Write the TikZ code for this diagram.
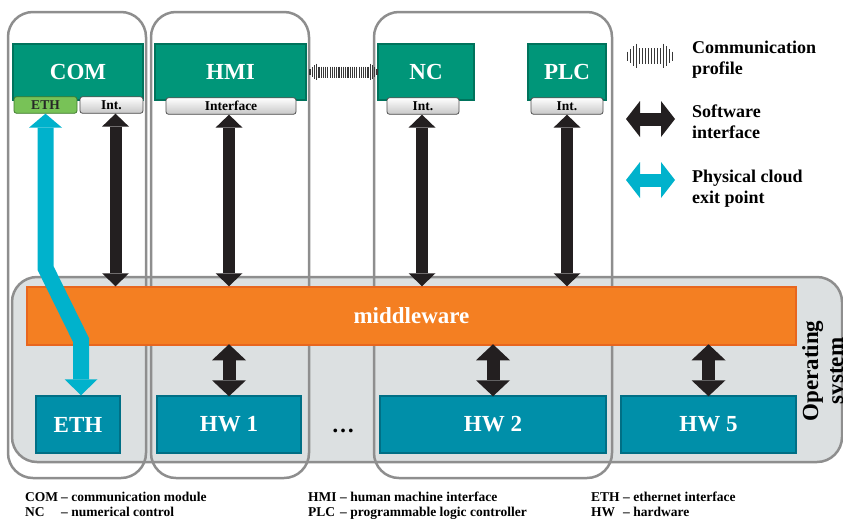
\documentclass[tikz,border=0pt]{standalone}
\usepackage{fontspec}
\setmainfont{Liberation Serif}
\usetikzlibrary{arrows.meta,calc}
\definecolor{modgreen}{HTML}{009679}
\definecolor{modgreenD}{HTML}{00735C}
\definecolor{tabgreen}{HTML}{78C257}
\definecolor{tabgreenD}{HTML}{3F7A2E}
\definecolor{mworange}{HTML}{F47F22}
\definecolor{mworangeD}{HTML}{E8661E}
\definecolor{hwblue}{HTML}{008FA9}
\definecolor{hwblueD}{HTML}{006F85}
\definecolor{osfill}{HTML}{DCE0E1}
\definecolor{framegray}{HTML}{8E8E8E}
\definecolor{physcyan}{HTML}{00B2CC}
\definecolor{swblack}{HTML}{231F20}
\definecolor{cpgray}{HTML}{383838}
\definecolor{tabgrayD}{HTML}{4D4D4D}
\tikzset{
  pics/commprof/.style n args={5}{code={
    \foreach \i in {0,...,#5}{
      \pgfmathsetmacro\cpx{-#1+2*#1*\i/#5}
      \pgfmathsetmacro\cpd{#1-abs(\cpx)}
      \pgfmathsetmacro\cph{(\cpd<#2) ? (#3*(0.3+0.7*\cpd/#2)) : (#4)}
      \draw (\cpx,-\cph) -- (\cpx,\cph);
    }
  }},
  frame/.style={draw=framegray, line width=2.5pt, rounded corners=25pt},
  module/.style={fill=modgreen, draw=modgreenD, line width=1.2pt, text=white,
    font=\fontsize{23}{23}\selectfont\bfseries, minimum height=56pt, inner sep=0pt},
  inttab/.style={top color=white, bottom color=black!22, draw=tabgrayD, line width=0.8pt,
    rounded corners=2.5pt, font=\fontsize{13.5}{13.5}\selectfont\bfseries, inner sep=0pt,
    minimum height=16.5pt},
  ethtabst/.style={inttab, top color=tabgreen, bottom color=tabgreen, draw=tabgreenD},
  hwbox/.style={fill=hwblue, draw=hwblueD, line width=1.5pt, text=white,
    font=\fontsize{23}{23}\selectfont\bfseries, minimum height=57pt, inner sep=0pt},
  mwbox/.style={fill=mworange, draw=mworangeD, line width=1.5pt, text=white,
    font=\fontsize{23}{23}\selectfont\bfseries, minimum height=58pt, minimum width=769pt, inner sep=0pt},
  swtop/.style={draw=swblack, line width=12pt,
    arrows={Triangle[width=27pt,length=13pt,line width=0pt]-Triangle[width=27pt,length=13pt,line width=0pt]}},
  swbot/.style={draw=swblack, line width=13pt,
    arrows={Triangle[width=34pt,length=16pt,line width=0pt]-Triangle[width=34pt,length=16pt,line width=0pt]}},
  swlegend/.style={draw=swblack, line width=13pt,
    arrows={Triangle[width=36pt,length=14pt,line width=0pt]-Triangle[width=36pt,length=14pt,line width=0pt]}},
  physarrow/.style={draw=physcyan, line width=16pt,
    arrows={Triangle[width=33pt,length=14pt,line width=0pt]-Triangle[width=33pt,length=16pt,line width=0pt]}},
  physlegend/.style={draw=physcyan, line width=13pt,
    arrows={Triangle[width=36pt,length=14pt,line width=0pt]-Triangle[width=36pt,length=14pt,line width=0pt]}},
  legtext/.style={anchor=north west, align=left, inner sep=0pt,
    font=\fontsize{18}{21}\selectfont\bfseries},
  foot/.style={anchor=base west, inner sep=0pt, font=\fontsize{13.5}{15}\selectfont\bfseries}
}
\begin{document}
\begin{tikzpicture}[x=1pt,y=-1pt]
\useasboundingbox (0,0) rectangle (843,520);
% operating system region
\draw[frame, fill=osfill] (12,277) rectangle (842,462);
% columns
\draw[frame] (8,12) rectangle (146,478);
\draw[frame] (151,12) rectangle (309,478);
\draw[frame] (374,12) rectangle (612,478);
% modules
\node[module, minimum width=130pt] (com) at (78,72) {COM};
\node[module, minimum width=151pt] (hmi) at (230.5,72) {HMI};
\node[module, minimum width=96pt] (nc) at (426,72) {NC};
\node[module, minimum width=78pt] (plc) at (567,72) {PLC};
% tabs
\node[ethtabst, minimum width=63pt, text=black!85] (ethtab) at (45.5,105) {ETH};
\node[inttab, minimum width=63pt] (comint) at (111.5,105) {Int.};
\node[inttab, minimum width=130pt] (hmiint) at (231,106) {Interface};
\node[inttab, minimum width=72pt] (ncint) at (423,106) {Int.};
\node[inttab, minimum width=72pt] (plcint) at (567,106) {Int.};
% middleware and hardware
\node[mwbox] (mw) at (411.5,316) {middleware};
\node[hwbox, minimum width=84pt] (ethhw) at (78,424.5) {ETH};
\node[hwbox, minimum width=144pt] (hw1) at (229,424.5) {HW 1};
\node[hwbox, minimum width=226pt] (hw2) at (493,424.5) {HW 2};
\node[hwbox, minimum width=175pt] (hw5) at (708.5,424.5) {HW 5};
\node[font=\fontsize{23}{23}\selectfont\bfseries, inner sep=0pt, anchor=base] (dots) at (343,432) {…};
\node[rotate=90, align=center, inner sep=0pt, font=\fontsize{23}{25}\selectfont\bfseries] (os) at (825,371) {Operating\\system};
% software interface arrows
\draw[swtop] ([xshift=4pt]comint.south) -- ([xshift=4pt]comint.south |- mw.north);
\draw[swtop] ([xshift=-2pt]hmiint.south) -- ([xshift=-2pt]hmiint.south |- mw.north);
\draw[swtop] ([xshift=-1pt]ncint.south) -- ([xshift=-1pt]ncint.south |- mw.north);
\draw[swtop] (plcint.south) -- (plcint.south |- mw.north);
\draw[swbot] ([yshift=1.5pt]hw1.north |- mw.south) -- ([yshift=-1pt]hw1.north);
\draw[swbot] ([yshift=1.5pt]hw2.north |- mw.south) -- ([yshift=-1pt]hw2.north);
\draw[swbot] ([yshift=1.5pt]hw5.north |- mw.south) -- ([yshift=-1pt]hw5.north);
% physical cloud exit
\coordinate (pbend1) at (45.5,268);
\coordinate (pbend2) at (81,340);
\draw[physarrow, line join=miter] (ethtab.south) -- (pbend1) -- (pbend2) -- ($(ethhw.north)+(3,0)$);
% communication profile
\pic[color=cpgray, line width=1.15pt] at ($(hmi.east)!0.5!(nc.west)+(1.5,0)$) {commprof={33.5}{8}{9.5}{5.5}{30}};
% legend
\pic[color=cpgray, line width=1.7pt] at (650,56) {commprof={22.5}{12}{15}{8}{15}};
\node[legtext] (lcp) at (692,41) {Communication\\profile};
\coordinate (lsw1) at (626,119);
\coordinate (lsw2) at (675,119);
\draw[swlegend] (lsw1) -- (lsw2);
\node[legtext] (lsw) at (692,104.5) {Software\\interface};
\coordinate (lph1) at (626,180);
\coordinate (lph2) at (675,180);
\draw[physlegend] (lph1) -- (lph2);
\node[legtext] (lph) at (692,169.5) {Physical cloud\\exit point};
% footnotes
\node[foot] (f1) at (25,501) {\makebox[36pt][l]{COM}– communication module};
\node[foot] (f2) at (25,516.5) {\makebox[36pt][l]{NC}– numerical control};
\node[foot] (f3) at (308,501) {\makebox[32pt][l]{HMI}– human machine interface};
\node[foot] (f4) at (308,516.5) {\makebox[32pt][l]{PLC}– programmable logic controller};
\node[foot] (f5) at (591,501) {\makebox[32pt][l]{ETH}– ethernet interface};
\node[foot] (f6) at (591,516.5) {\makebox[32pt][l]{HW}– hardware};
\end{tikzpicture}
\end{document}
